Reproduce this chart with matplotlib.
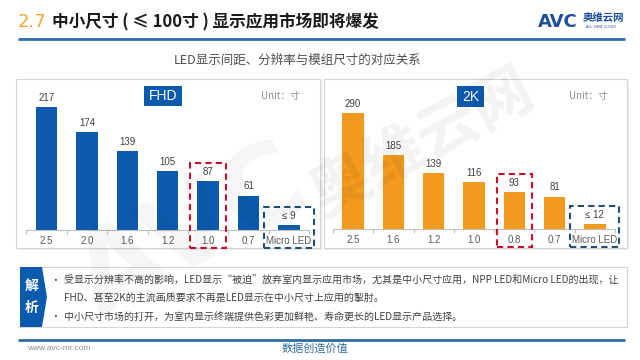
import matplotlib
matplotlib.use("Agg")
import matplotlib.pyplot as plt
from matplotlib.patches import Rectangle, Polygon
from matplotlib import font_manager

plt.rcParams['font.family'] = ['Noto Sans CJK SC', 'DejaVu Sans']

# ---------------- data ----------------
fhd_cats = ["2.5", "2.0", "1.6", "1.2", "1.0", "0.7", "Micro LED"]
fhd_vals = [217, 174, 139, 105, 87, 61, 9]
fhd_labels = ["217", "174", "139", "105", "87", "61", "≤ 9"]

k2_cats = ["2.5", "1.6", "1.2", "1.0", "0.8", "0.7", "Micro LED"]
k2_vals = [290, 185, 139, 116, 93, 81, 12]
k2_labels = ["290", "185", "139", "116", "93", "81", "≤ 12"]

title_num = "2.7"
title_txt = "中小尺寸 ( ≤ 100寸 ) 显示应用市场即将爆发"
subtitle = "LED显示间距、分辨率与模组尺寸的对应关系"
bullets = [
    "受显示分辨率不高的影响，LED显示“被迫”放弃室内显示应用市场，尤其是中小尺寸应用，NPP LED和Micro LED的出现，让",
    "FHD、甚至2K的主流画质要求不再是LED显示在中小尺寸上应用的掣肘。",
    "中小尺寸市场的打开，为室内显示终端提供色彩更加鲜艳、寿命更长的LED显示产品选择。",
]

BLUE = "#0B5AAE"
ORANGE = "#F39A1E"
W, H = 640, 360

installed = {f.name for f in font_manager.fontManager.ttflist}
narrow = ["Liberation Sans Narrow"] if "Liberation Sans Narrow" in installed else []

fig = plt.figure(figsize=(6.4, 3.6), dpi=100)
fig.patch.set_facecolor("white")
bg = fig.add_axes([0, 0, 1, 1], zorder=0)
bg.set_xlim(0, W)
bg.set_ylim(H, 0)
bg.axis("off")

# header
bg.text(18, 22, title_num, fontsize=15 if narrow else 13, color="#F0A830",
        va="center", ha="left", family=narrow + ["DejaVu Sans"])
bg.text(52, 22, title_txt, fontsize=12, fontweight="bold", color="#1A1A1A",
        va="center", ha="left")
bg.plot([18, 625], [39, 39], color="#2E6DA4", lw=2, solid_capstyle="butt")
bg.text(538, 22, "AVC", fontsize=13, fontweight="bold", color="#1F4E9A",
        va="center", ha="left", family=["DejaVu Sans"])
bg.text(583, 18, "奥维云网", fontsize=7.5, fontweight="bold", color="#1F4E9A",
        va="center", ha="left")
bg.text(601, 27, "ALL VIEW CLOUD", fontsize=2.5, color="#1F4E9A",
        va="center", ha="center", family=["DejaVu Sans"])
bg.text(298, 60, subtitle, fontsize=9, color="#505050", va="center", ha="center",
        fontweight="medium")

# panels
for (x0, x1) in [(16, 320), (324, 627)]:
    bg.add_patch(Rectangle((x0 + 2, 81), x1 - x0, 169, facecolor="#EDEDED",
                           edgecolor="none"))
    bg.add_patch(Rectangle((x0, 79), x1 - x0, 169, facecolor="white",
                           edgecolor="#D5D5D5", lw=0.8))

# panel labels
bg.add_patch(Rectangle((144, 86), 38, 20, facecolor=BLUE, edgecolor="none"))
bg.text(163, 96.5, "FHD", color="white", fontsize=10, ha="center", va="center",
        family=["Liberation Sans", "DejaVu Sans"])
bg.add_patch(Rectangle((457, 86), 27, 21, facecolor=BLUE, edgecolor="none"))
bg.text(470.5, 97, "2K", color="white", fontsize=10, ha="center", va="center",
        family=["Liberation Sans", "DejaVu Sans"])
bg.text(280, 96, "Unit：寸", color="#8C8C8C", fontsize=7, ha="center", va="center")
bg.text(588, 96, "Unit：寸", color="#8C8C8C", fontsize=7, ha="center", va="center")


def bar_panel(rect, cats, vals, labels, color, ymax, hi_idx):
    l, t, r, b = rect
    ax = fig.add_axes([l / W, 1 - b / H, (r - l) / W, (b - t) / H], zorder=2)
    ax.patch.set_alpha(0)
    x = list(range(len(cats)))
    ax.bar(x, vals, width=0.53, color=color, zorder=2)
    ax.set_xlim(-0.5, len(cats) - 0.5)
    ax.set_ylim(0, ymax)
    for s in ["top", "left", "right"]:
        ax.spines[s].set_visible(False)
    ax.spines["bottom"].set_color("#BFBFBF")
    ax.spines["bottom"].set_linewidth(0.8)
    ax.set_yticks([])
    ax.set_xticks(x)
    ax.set_xticklabels(cats, fontsize=7, color="#595959",
                       family=["Liberation Sans", "DejaVu Sans"])
    ax.tick_params(axis="x", which="major", length=0, pad=4)
    ax.set_xticks([i - 0.5 for i in range(len(cats) + 1)], minor=True)
    ax.tick_params(axis="x", which="minor", length=3, color="#BFBFBF", width=0.8)
    for i, (v, lab) in enumerate(zip(vals, labels)):
        ax.annotate(lab, (i, v), xytext=(0, 3), textcoords="offset points",
                    ha="center", va="bottom", fontsize=7, color="#404040",
                    family=["Liberation Sans", "DejaVu Sans"])
    ppu = (b - t) / ymax
    pad = 18 / ppu
    boxes = [(hi_idx, 0.44, "#C8102E"), (len(cats) - 1, 0.61, "#1F4E79")]
    for idx, hw, ec in boxes:
        ax.add_patch(Rectangle((idx - hw, -pad), 2 * hw, vals[idx] + 2 * pad,
                               fill=False, edgecolor=ec, lw=1.5,
                               linestyle=(0, (3, 2)), clip_on=False, zorder=3))
    return ax


bar_panel((26.3, 85, 309.1, 230), fhd_cats, fhd_vals, fhd_labels, BLUE,
          (230 - 85) / 0.565, 4)
bar_panel((333, 85, 615, 229), k2_cats, k2_vals, k2_labels, ORANGE,
          (229 - 85) / 0.401, 4)

# bottom analysis box
bg.add_patch(Rectangle((20, 267), 607, 60, facecolor="white",
                       edgecolor="#D5D5D5", lw=0.8))
bg.add_patch(Polygon([(20, 267), (42, 267), (47, 297), (42, 327), (20, 327)],
                     closed=True, facecolor=BLUE, edgecolor="none"))
bg.text(32, 286, "解", color="white", fontsize=10, fontweight="bold",
        ha="center", va="center")
bg.text(32, 308, "析", color="white", fontsize=10, fontweight="bold",
        ha="center", va="center")
FS = 7.2
bg.text(55, 281, "•", fontsize=7, color="#404040", ha="center", va="center")
bg.text(64, 281, bullets[0], fontsize=FS, color="#404040", ha="left", va="center")
bg.text(64, 298, bullets[1], fontsize=FS, color="#404040", ha="left", va="center")
bg.text(55, 317, "•", fontsize=7, color="#404040", ha="center", va="center")
bg.text(64, 317, bullets[2], fontsize=FS, color="#404040", ha="left", va="center")

# footer
bg.plot([18, 625], [340, 340], color="#2E6DA4", lw=2, solid_capstyle="butt")
bg.text(27, 349, "www.avc-mr.com", fontsize=6, color="#8C8C8C", ha="left",
        va="center", family=["Liberation Sans", "DejaVu Sans"])
bg.text(315, 349, "数据创造价值", fontsize=8, color="#2E6DA4", ha="center",
        va="center", style="italic")

# faint watermark
fig.text(0.66, 0.60, "奥维云网", fontsize=44, fontweight="bold", color="#000000",
         alpha=0.05, rotation=28, ha="center", va="center", zorder=5)
fig.text(0.30, 0.35, "AVC", fontsize=80, fontweight="bold", color="#000000",
         alpha=0.04, rotation=28, ha="center", va="center", zorder=5,
         family=["DejaVu Sans"])

fig.savefig("out.png", dpi=100, facecolor="white")
